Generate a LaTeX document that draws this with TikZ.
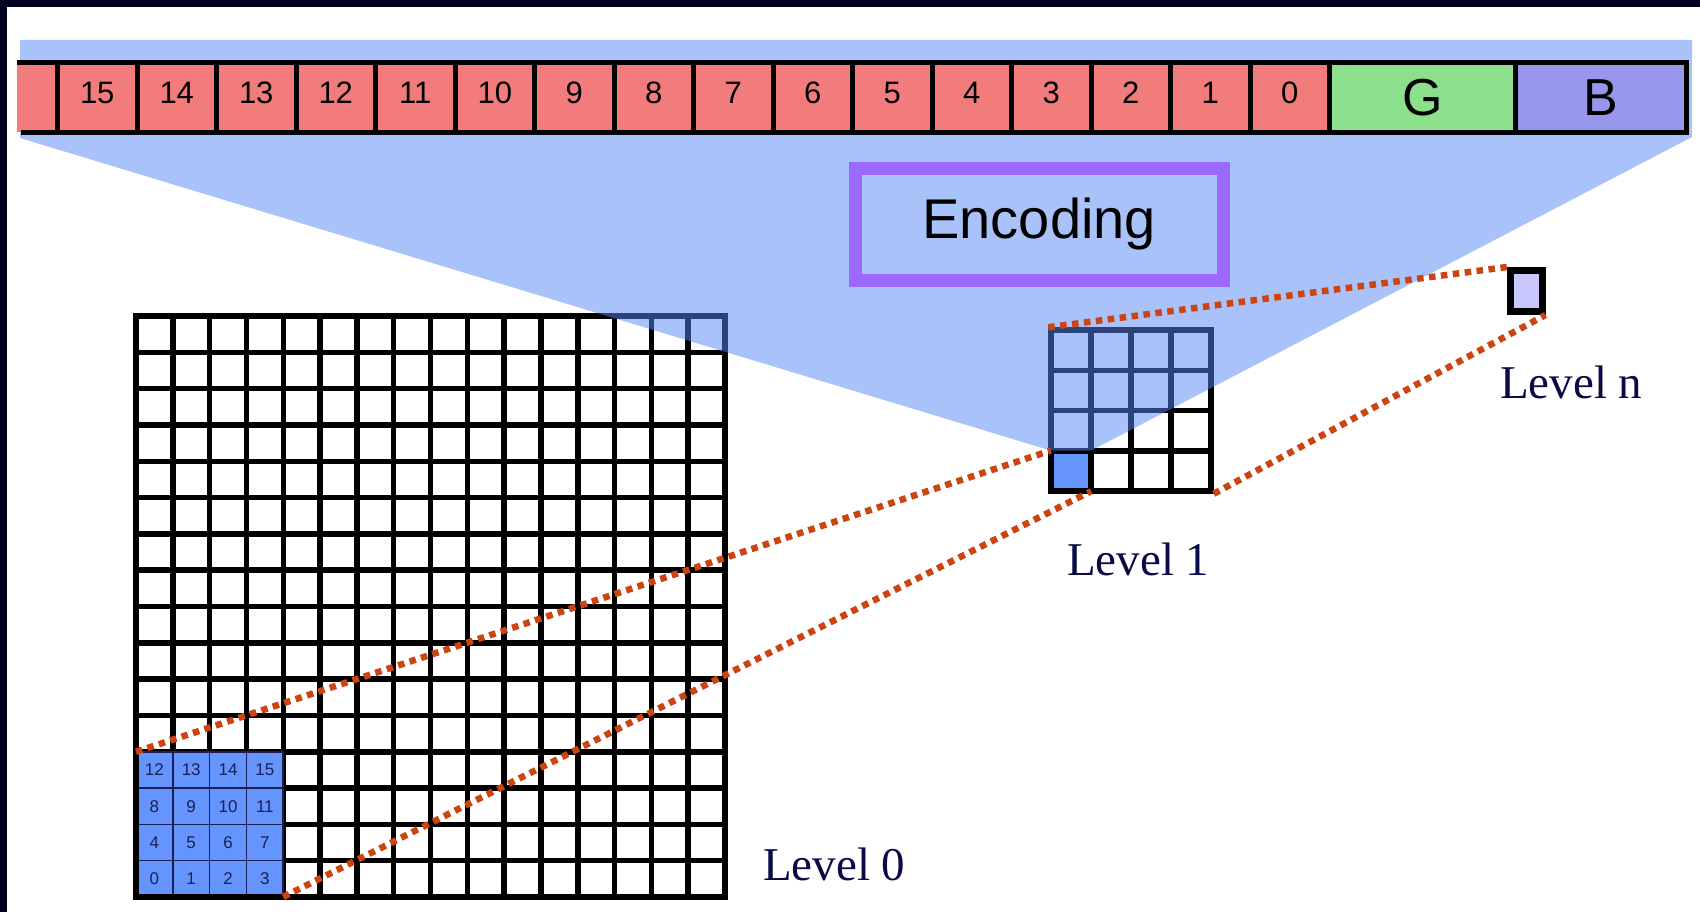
\documentclass[tikz,border=0pt]{standalone}
\usepackage{fontspec}
\setmainfont{Liberation Serif}
\setsansfont{Liberation Sans}
\usepackage{tikz}
\definecolor{framecol}{HTML}{00001E}
\definecolor{barred}{HTML}{F27C7C}
\definecolor{gcol}{HTML}{8CE08C}
\definecolor{bcol}{HTML}{9696EB}
\definecolor{overblue}{HTML}{5587F5}
\definecolor{cellblue}{HTML}{6495FF}
\definecolor{blknavy}{HTML}{1E1E50}
\definecolor{lnfill}{HTML}{C8C8FF}
\definecolor{encpurple}{HTML}{9B69FF}
\definecolor{dotred}{HTML}{CC4411}
\definecolor{labnavy}{HTML}{0A0A46}

\begin{document}
\begin{tikzpicture}
  [x=1pt,y=-1pt,
   bitcell/.style={draw=black,line width=5pt,fill=barred,minimum width=79.5pt,minimum height=70pt,inner sep=0pt,font=\sffamily\fontsize{31}{31}\selectfont,text depth=9pt},
   gridline/.style={draw=black,line width=5.5pt,line cap=rect},
   blkcell/.style={draw=blknavy,line width=1.5pt,fill=cellblue,minimum width=36.8pt,minimum height=36.3pt,inner sep=0pt,outer sep=0pt,text=blknavy,font=\sffamily\fontsize{17}{17}\selectfont},
   dotline/.style={draw=dotred,line width=6.5pt,dash pattern=on 6.5pt off 5.5pt},
   levellabel/.style={anchor=base west,inner sep=0pt,text=labnavy,font=\fontsize{47}{47}\selectfont}]
  \useasboundingbox (0,0) rectangle (1700,912);
  \fill[white] (0,0) rectangle (1700,912);
  \fill[framecol] (0,0) rectangle (1700,7);
  \fill[framecol] (0,0) rectangle (7,912);

  % level 0 grid
  \foreach \k [evaluate=\k as \gx using 136+36.8125*\k, evaluate=\k as \gy using 316+36.3125*\k] in {0,...,16}
  {
    \draw[gridline] (\gx,316) -- (\gx,897);
    \draw[gridline] (136,\gy) -- (725,\gy);
  }
  \foreach \n [evaluate=\n as \cx using {136+36.8125*(mod(\n,4)+0.5)}, evaluate=\n as \cy using {897-36.3125*(int(\n/4)+0.5)}] in {0,...,15}
    \node[blkcell] (c\n) at (\cx,\cy) {\n};
  \draw[gridline] (136,316) rectangle (725,897);

  % level 1 grid
  \node[fill=cellblue,minimum width=40pt,minimum height=40.25pt,inner sep=0pt] (l1cell) at (1071,470.875) {};
  \foreach \k [evaluate=\k as \hx using 1051+40*\k, evaluate=\k as \hy using 330+40.25*\k] in {1,2,3}
  {
    \draw[gridline] (\hx,330) -- (\hx,491);
    \draw[gridline] (1051,\hy) -- (1211,\hy);
  }
  \node[draw,line width=5.5pt,minimum width=160pt,minimum height=161pt,inner sep=0pt] (l1grid) at (1131,410.5) {};

  % level n
  \node[draw,line width=7pt,fill=lnfill,minimum width=31.5pt,minimum height=41pt,inner sep=0pt] (lnbox) at (1526.25,291) {};

  % projection
  \fill[overblue,opacity=0.5] (20,40) -- (1692,40) -- (1692,137) -- (l1cell.north east) -- (l1cell.north west) -- (20,138) -- cycle;

  % encoded bits
  \fill[barred] (17,62.5) rectangle (57.5,132.5);
  \draw[line width=5pt] (17,62.5) -- (57.5,62.5);
  \draw[line width=5pt] (21,132.5) -- (57.5,132.5);
  \foreach \n [evaluate=\n as \bx using 97.25+79.5*(15-\n)] in {15,14,...,0}
    \node[bitcell] (b\n) at (\bx,97.5) {\n};
  \node[bitcell,fill=gcol,minimum width=186pt,font=\sffamily\fontsize{52}{52}\selectfont,text depth=0pt] (bg) at (1422.5,97.5) {G};
  \node[bitcell,fill=bcol,minimum width=171pt,font=\sffamily\fontsize{52}{52}\selectfont,text depth=0pt] (bb) at (1601,97.5) {B};

  \node[draw=encpurple,line width=13pt,minimum width=368.5pt,minimum height=111.5pt,font=\sffamily\fontsize{56}{56}\selectfont] (enc) at (1039.25,224.25) {Encoding};

  \draw[dotline] (c12.north west) -- (l1cell.north west);
  \draw[dotline] (c3.south east) -- (l1cell.south east);
  \draw[dotline] (l1grid.north west) -- (lnbox.north west);
  \draw[dotline] (l1grid.south east) -- (lnbox.south east);

  \node[levellabel] (lab0) at (763,880) {Level 0};
  \node[levellabel] (lab1) at (1067,575) {Level 1};
  \node[levellabel] (labn) at (1500,398) {Level n};
\end{tikzpicture}
\end{document}
